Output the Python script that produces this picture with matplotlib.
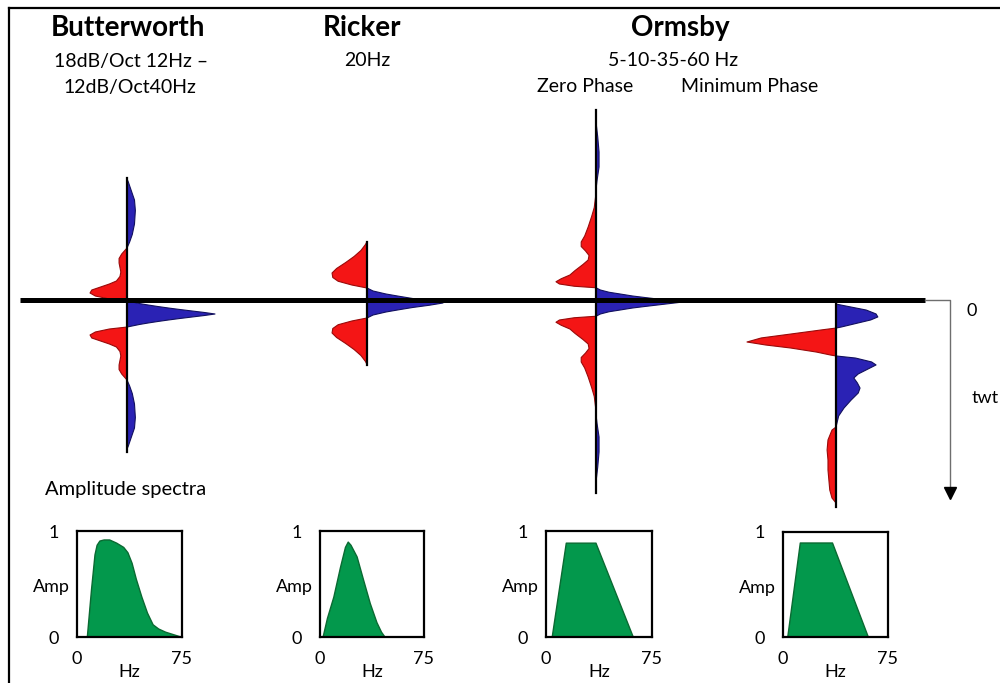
import numpy as np
import matplotlib
matplotlib.use("Agg")
import matplotlib.pyplot as plt

plt.rcParams["font.family"] = ["Lato", "DejaVu Sans"]

# ============================================================
# DATA
# ============================================================

# zero-phase wavelets: one half only (t >= 0, ms), mirrored when drawn
# amplitudes normalised to the main peak
butter_t = [0, 1, 2, 3, 4, 5, 6, 7, 8.7, 10, 12, 14, 16, 18, 20, 22, 25, 28, 31,
            34, 37, 40, 42, 44, 48, 53, 60, 69, 76, 82, 88, 90]
butter_amp = [1.0, 0.88, 0.74, 0.60, 0.47, 0.35, 0.24, 0.14, 0.0, -0.20, -0.36,
              -0.42, -0.40, -0.30, -0.20, -0.12, -0.08, -0.07, -0.08, -0.09, -0.09,
              -0.06, -0.03, 0.0, 0.03, 0.06, 0.085, 0.095, 0.085, 0.05, 0.015, 0.0]

ricker_t = [0, 1.5, 3, 4.5, 6, 8, 10, 12, 14.5, 17, 20, 23, 27, 31, 35, 39, 41]
ricker_amp = [1.0, 0.82, 0.60, 0.42, 0.25, 0.08, 0.0, -0.20, -0.38, -0.45, -0.46,
              -0.40, -0.28, -0.17, -0.08, -0.02, 0.0]

ormsby_t = [0, 1.5, 3, 4, 5.5, 6.5, 8, 9.5, 10.5, 12, 13.5, 15.5, 18, 21, 25, 28,
            31, 34, 37, 40, 44, 50, 57, 63, 70, 75, 81, 90, 100, 110, 120]
ormsby_amp = [1.0, 0.78, 0.56, 0.42, 0.26, 0.15, 0.05, 0.0, -0.25, -0.42, -0.46,
              -0.40, -0.30, -0.24, -0.15, -0.09, -0.08, -0.12, -0.17, -0.17, -0.13,
              -0.09, -0.05, -0.02, -0.005, 0.0, 0.012, 0.035, 0.035, 0.02, 0.0]

# minimum-phase Ormsby: causal, t from 0 (ms)
minph_t = [0, 2.7, 4, 6.7, 9.3, 11.3, 13.3, 16, 18, 18.7, 20, 22.7, 25.3, 28, 30,
           32, 34.7, 36.7, 37.3, 38.7, 41.3, 43.3, 46, 49.3, 52, 55.3, 58.7, 62,
           66.7, 72, 77.3, 84.7, 86.7, 93.3, 100, 106.7, 113.3, 120, 126.7, 132, 135.3]
minph_amp = [0, 0, 0.11, 0.34, 0.45, 0.47, 0.39, 0.20, 0.06, 0, -0.17, -0.51,
             -0.84, -1.0, -0.79, -0.51, -0.22, -0.06, 0, 0.22, 0.40, 0.45, 0.36,
             0.25, 0.20, 0.24, 0.27, 0.25, 0.17, 0.09, 0.03, 0, -0.045, -0.09,
             -0.10, -0.09, -0.09, -0.08, -0.07, -0.045, 0]

# amplitude spectra (Hz, normalised amplitude)
butter_hz = [7, 10, 12.5, 14, 16, 19, 23, 28, 33, 36, 39, 42, 46, 50, 54, 58, 63, 69, 75]
butter_spec = [0, 0.45, 0.78, 0.87, 0.91, 0.92, 0.92, 0.89, 0.85, 0.80, 0.70, 0.55,
               0.38, 0.23, 0.12, 0.08, 0.05, 0.025, 0]
ricker_hz = [1.8, 5, 9.6, 14.4, 18, 20, 22, 26.4, 31.1, 35.9, 40.7, 44, 46.7]
ricker_spec = [0, 0.18, 0.38, 0.66, 0.85, 0.90, 0.87, 0.76, 0.54, 0.32, 0.14, 0.05, 0]
ormsby_hz = [4, 14, 35, 61.5]
ormsby_spec = [0, 0.89, 0.89, 0]
minph_hz = [3, 12, 35, 60.7]
minph_spec = [0, 0.90, 0.90, 0]

RED, RED_EDGE = "#f41515", "#9a0a0a"
BLUE, BLUE_EDGE = "#2a22b4", "#12105e"
GREEN, GREEN_EDGE = "#03984c", "#0a6a32"

# ============================================================
# LAYOUT HELPERS (pixel boxes on a 1000x683 canvas)
# ============================================================
W, H = 1000, 683
PX_PER_MS = 1.5

fig = plt.figure(figsize=(W / 100, H / 100), dpi=100)


def px_axes(x0, y0, x1, y1):
    return fig.add_axes([x0 / W, 1 - y1 / H, (x1 - x0) / W, (y1 - y0) / H])


def draw_wavelet(t, amp, x_axis, peak_px, y_zero, t_lo, t_hi):
    ax = px_axes(x_axis - peak_px, y_zero + t_lo * PX_PER_MS,
                 x_axis + peak_px, y_zero + t_hi * PX_PER_MS)
    ax.set_xlim(-1, 1)
    ax.set_ylim(t_hi, t_lo)
    ax.axis("off")
    t = np.asarray(t, float)
    amp = np.asarray(amp, float)
    ax.fill_betweenx(t, 0, amp, where=amp >= 0, interpolate=True, color=BLUE,
                     edgecolor=BLUE_EDGE, lw=0.8, clip_on=False)
    ax.fill_betweenx(t, 0, amp, where=amp <= 0, interpolate=True, color=RED,
                     edgecolor=RED_EDGE, lw=0.8, clip_on=False)
    ax.plot([0, 0], [t_lo, t_hi], color="black", lw=1.6, clip_on=False)


def mirror(t, amp):
    t = np.asarray(t, float)
    amp = np.asarray(amp, float)
    return np.concatenate([-t[::-1], t[1:]]), np.concatenate([amp[::-1], amp[1:]])


def draw_spectrum(hz, spec, x0, y0, x1, y1):
    ax = px_axes(x0, y0, x1, y1)
    ax.fill_between(hz, 0, spec, color=GREEN, edgecolor=GREEN_EDGE, lw=1.0)
    ax.set_xlim(0, 75)
    ax.set_ylim(0, 1)
    for s in ax.spines.values():
        s.set_linewidth(1.6)
    ax.set_xticks([0, 75])
    ax.set_xticklabels(["0", "75"])
    ax.set_yticks([0, 1])
    ax.set_yticklabels(["0", "1"])
    ax.tick_params(axis="x", length=0, pad=10, labelsize=13)
    ax.tick_params(axis="y", length=0, pad=13, labelsize=13)
    ax.text(-0.07, 0.47, "Amp", transform=ax.transAxes, ha="right", va="center", fontsize=13)
    ax.text(0.5, -0.33, "Hz", transform=ax.transAxes, ha="center", va="center", fontsize=13)


# ============================================================
# WAVELETS
# ============================================================
bt, ba = mirror(butter_t, butter_amp)
draw_wavelet(bt, ba, 127, 88, 314, -91, 92)
rt, ra = mirror(ricker_t, ricker_amp)
draw_wavelet(rt, ra, 367, 76, 303, -41, 41)
ot, oa = mirror(ormsby_t, ormsby_amp)
draw_wavelet(ot, oa, 596, 87, 302, -128, 127)
draw_wavelet(minph_t, minph_amp, 836, 89, 300, 0, 138)

# ============================================================
# SPECTRA
# ============================================================
draw_spectrum(butter_hz, butter_spec, 77, 531, 182, 637)
draw_spectrum(ricker_hz, ricker_spec, 320, 531, 424, 637)
draw_spectrum(ormsby_hz, ormsby_spec, 546, 531, 652, 637)
draw_spectrum(minph_hz, minph_spec, 783, 532, 888, 637)

# ============================================================
# OVERLAY: frame, time axis, titles
# ============================================================
ov = fig.add_axes([0, 0, 1, 1], zorder=10)
ov.set_xlim(0, W)
ov.set_ylim(H, 0)
ov.axis("off")
ov.patch.set_alpha(0)

ov.plot([9, W], [8, 8], color="black", lw=1.6)
ov.plot([9, 9], [8, H], color="black", lw=1.6)

ov.plot([20, 925], [300, 300], color="black", lw=3.6, solid_capstyle="butt")
ov.plot([925, 950, 950], [300, 300, 490], color="#6e6e6e", lw=1.0)
ov.plot([950], [493], marker="v", color="black", markersize=9)
ov.text(972, 311, "0", ha="center", va="center", fontsize=13)
ov.text(985, 398, "twt", ha="center", va="center", fontsize=13)

ov.text(128, 28, "Butterworth", ha="center", va="center", fontsize=20, fontweight="bold")
ov.text(131, 61, "18dB/Oct 12Hz \u2013", ha="center", va="center", fontsize=14)
ov.text(130, 88, "12dB/Oct40Hz", ha="center", va="center", fontsize=14)
ov.text(362, 28, "Ricker", ha="center", va="center", fontsize=20, fontweight="bold")
ov.text(367, 61, "20Hz", ha="center", va="center", fontsize=14)
ov.text(680, 28, "Ormsby", ha="center", va="center", fontsize=20, fontweight="bold")
ov.text(673, 60, "5-10-35-60 Hz", ha="center", va="center", fontsize=14)
ov.text(585, 86, "Zero Phase", ha="center", va="center", fontsize=14)
ov.text(750, 86, "Minimum Phase", ha="center", va="center", fontsize=14)
ov.text(126, 490, "Amplitude spectra", ha="center", va="center", fontsize=14.5)

fig.savefig("out.png", dpi=100, facecolor="white")
